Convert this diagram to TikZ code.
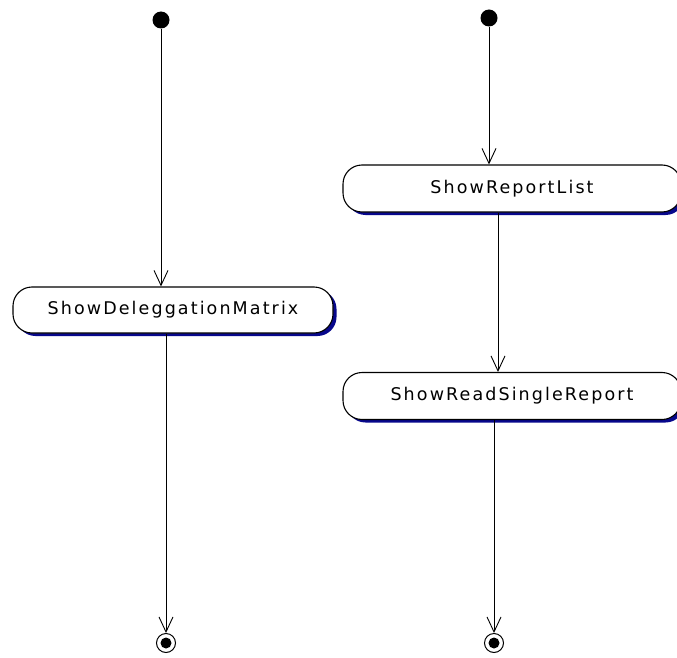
\documentclass[tikz,border=0pt]{standalone}
\usepackage{fontspec}
\newfontfamily\statefont[LetterSpace=12]{DejaVu Sans}
\usetikzlibrary{arrows.meta,shadows}
\definecolor{shadowblue}{RGB}{8,8,140}
\begin{document}
\begin{tikzpicture}[x=1pt,y=-1pt,
  startdot/.style={circle,fill=black,inner sep=0pt,minimum size=17pt},
  enddot/.style={circle,draw=black,line width=1pt,fill=white,inner sep=0pt,minimum size=19pt,
    path picture={\fill[black] (path picture bounding box.center) circle (5.5pt);}},
  action/.style={draw=black,line width=1.1pt,fill=white,rounded corners=19pt,
    inner sep=0pt,font=\statefont\fontsize{17.5}{20}\selectfont,
    drop shadow={shadow xshift=3.5pt,shadow yshift=-3pt,fill=shadowblue,opacity=1}},
  flow/.style={draw=black,line width=0.9pt,-{Straight Barb[length=15pt,width=14pt,line width=0.9pt]}}]
\useasboundingbox (0,0) rectangle (677,658);
\begin{scope}
\clip (0,0) rectangle (677,658);
% left column
\node[startdot] (s1) at (161,20) {};
\node[action,minimum width=320pt,minimum height=46pt] (a1) at (173,310) {ShowDeleggationMatrix};
\node[enddot] (e1) at (166,643) {};
\draw[flow] (s1) -- (s1 |- a1.north);
\draw[flow] (a1.south -| e1) -- (e1);
% right column
\node[startdot] (s2) at (489,18) {};
\node[action,minimum width=338pt,minimum height=47pt] (a2) at (512,188.5) {ShowReportList};
\node[action,minimum width=338pt,minimum height=47pt] (a3) at (512,396) {ShowReadSingleReport};
\node[enddot] (e2) at (494,643) {};
\coordinate (mid) at (498,300);
\draw[flow] (s2) -- (s2 |- a2.north);
\draw[flow] (a2.south -| mid) -- (a3.north -| mid);
\draw[flow] (a3.south -| e2) -- (e2);
\end{scope}
\end{tikzpicture}
\end{document}
